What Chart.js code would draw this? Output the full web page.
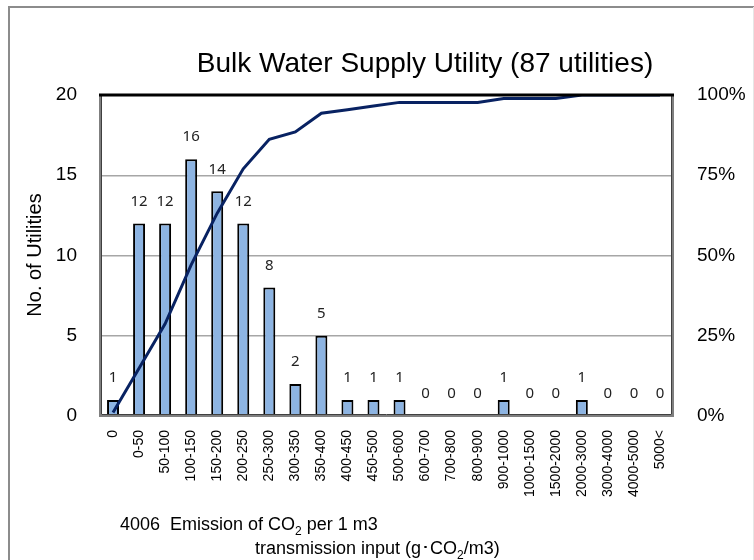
<!DOCTYPE html>
<html>
<head>
<meta charset="utf-8">
<script src="https://cdn.jsdelivr.net/npm/chart.js@4.4.1/dist/chart.umd.min.js"></script>
<style>
  html, body { margin: 0; padding: 0; background: #fff; }
  canvas { display: block; }
</style>
</head>
<body>
<canvas id="c" width="754" height="560"></canvas>
<script>
const categories = ["0","0-50","50-100","100-150","150-200","200-250","250-300","300-350","350-400","400-450","450-500","500-600","600-700","700-800","800-900","900-1000","1000-1500","1500-2000","2000-3000","3000-4000","4000-5000","5000<"];
const counts = [1,12,12,16,14,12,8,2,5,1,1,1,0,0,0,1,0,0,1,0,0,0];
const cumulativePct = [1.1,14.9,28.7,47.1,63.2,77.0,86.2,88.5,94.3,95.4,96.6,97.7,97.7,97.7,97.7,98.9,98.9,98.9,100,100,100,100];
const leftTicks = [0,5,10,15,20];
const rightTicks = [0,25,50,75,100];
const titleText = "Bulk Water Supply Utility (87 utilities)";
const yTitleText = "No. of Utilities";

const FONT = "'Liberation Sans', Arial, sans-serif";

const decorPlugin = {
  id: 'decor',
  beforeDraw(chart) {
    const ctx = chart.ctx;
    ctx.save();
    ctx.fillStyle = '#fff';
    ctx.fillRect(0, 0, chart.width, chart.height);
    ctx.strokeStyle = '#8c8c8c';
    ctx.lineWidth = 2;
    ctx.beginPath();
    ctx.moveTo(9, 570); ctx.lineTo(9, 7); ctx.lineTo(760, 7);
    ctx.stroke();
    ctx.strokeStyle = '#e6e6e6';
    ctx.lineWidth = 1;
    ctx.beginPath();
    ctx.moveTo(753.5, 7); ctx.lineTo(753.5, 570);
    ctx.stroke();
    ctx.restore();
  },
  afterDatasetsDraw(chart) {
    const ctx = chart.ctx;
    const a = chart.chartArea;
    ctx.save();
    ctx.strokeStyle = '#7f7f7f';
    ctx.lineWidth = 2;
    ctx.beginPath();
    ctx.moveTo(a.left, a.top); ctx.lineTo(a.left, a.bottom); ctx.lineTo(a.right, a.bottom); ctx.lineTo(a.right, a.top);
    ctx.stroke();
    ctx.strokeStyle = '#404040';
    ctx.lineWidth = 1;
    ctx.beginPath();
    ctx.moveTo(a.left + 1.5, a.top); ctx.lineTo(a.left + 1.5, a.bottom - 1.5); ctx.lineTo(a.right - 1.5, a.bottom - 1.5); ctx.lineTo(a.right - 1.5, a.top);
    ctx.stroke();
    ctx.strokeStyle = '#000';
    ctx.lineWidth = 3;
    ctx.beginPath();
    ctx.moveTo(a.left - 1, a.top); ctx.lineTo(a.right + 1, a.top);
    ctx.stroke();

    // data labels above bars
    const meta = chart.getDatasetMeta(1);
    ctx.fillStyle = '#222';
    ctx.font = "15px 'Noto Sans', 'DejaVu Sans', sans-serif";
    ctx.textAlign = 'center';
    ctx.textBaseline = 'middle';
    meta.data.forEach((el, i) => {
      ctx.fillText(String(counts[i]), el.x, el.y - 22);
    });

    ctx.fillStyle = '#000';
    ctx.font = "28px " + FONT;
    ctx.textAlign = 'center';
    ctx.textBaseline = 'middle';
    ctx.fillText(titleText, 425, 64);

    ctx.save();
    ctx.translate(35, 255);
    ctx.rotate(-Math.PI / 2);
    ctx.font = "20px " + FONT;
    ctx.fillText(yTitleText, 0, 0);
    ctx.restore();

    function drawRuns(runs, x, y) {
      ctx.textAlign = 'left';
      ctx.textBaseline = 'alphabetic';
      let cx = x;
      runs.forEach(r => {
        ctx.font = (r.sub ? "12px " : "18px ") + FONT;
        ctx.fillText(r.t, cx, y + (r.sub ? 5 : 0));
        cx += ctx.measureText(r.t).width;
      });
    }
    drawRuns([{t:"4006  Emission of CO"},{t:"2",sub:true},{t:" per 1 m3"}], 120, 530);
    drawRuns([{t:"transmission input (g\uFF65CO"},{t:"2",sub:true},{t:"/m3)"}], 255, 554);
    ctx.restore();
  }
};

new Chart(document.getElementById('c'), {
  data: {
    labels: categories,
    datasets: [
      {
        type: 'line',
        data: cumulativePct,
        yAxisID: 'y2',
        borderColor: '#082262',
        borderWidth: 3,
        pointRadius: 0,
        tension: 0,
        fill: false,
        order: 0
      },
      {
        type: 'bar',
        data: counts,
        yAxisID: 'y',
        backgroundColor: '#8db4e2',
        borderColor: '#000',
        borderWidth: 2,
        barPercentage: 0.46,
        categoryPercentage: 1.0,
        order: 1
      }
    ]
  },
  options: {
    responsive: false,
    animation: false,
    devicePixelRatio: 1,
    layout: { padding: { top: 95, left: 0, right: 0, bottom: 0 } },
    plugins: { legend: { display: false }, tooltip: { enabled: false }, title: { display: false } },
    scales: {
      x: {
        offset: true,
        grid: { display: false, drawTicks: false },
        border: { display: false },
        ticks: {
          autoSkip: false, minRotation: 90, maxRotation: 90, padding: 14,
          color: '#000', font: { family: FONT, size: 14 }
        },
        afterFit(s) { s.height = 144; }
      },
      y: {
        position: 'left', min: 0, max: 20,
        afterBuildTicks(s) { s.ticks = leftTicks.map(v => ({ value: v })); },
        grid: {
          drawTicks: false,
          color: ctx => ctx.tick && (ctx.tick.value === 0 || ctx.tick.value === 20) ? 'rgba(0,0,0,0)' : '#a6a6a6',
          lineWidth: 1.5
        },
        border: { display: false },
        ticks: { padding: 23, color: '#000', font: { family: FONT, size: 19 } },
        afterFit(s) { s.width = 100; }
      },
      y2: {
        position: 'right', min: 0, max: 100,
        afterBuildTicks(s) { s.ticks = rightTicks.map(v => ({ value: v })); },
        grid: { display: false, drawTicks: false },
        border: { display: false },
        ticks: { padding: 24, color: '#000', font: { family: FONT, size: 19 }, callback: v => v + '%' },
        afterFit(s) { s.width = 81; }
      }
    }
  },
  plugins: [decorPlugin]
});
</script>
</body>
</html>
